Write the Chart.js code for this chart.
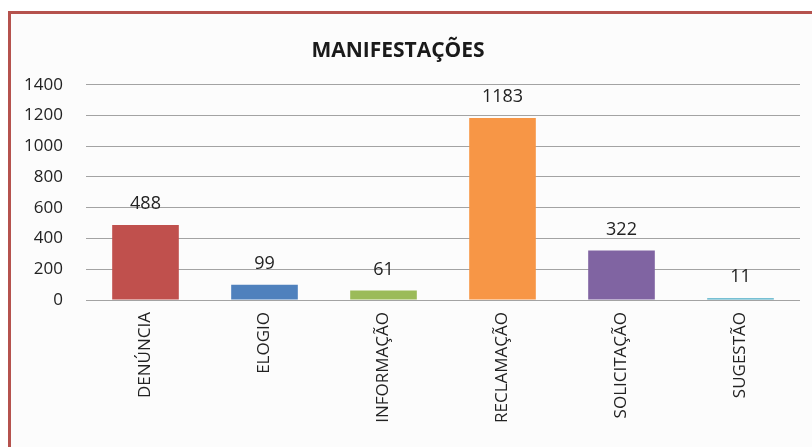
<!DOCTYPE html>
<html>
<head>
<meta charset="utf-8">
<script src="https://cdn.jsdelivr.net/npm/chart.js@4"></script>
<style>
  html, body { margin: 0; padding: 0; width: 812px; height: 447px; overflow: hidden; background: #fff; }
  #frame {
    position: absolute; left: 8px; top: 11px; width: 820px; height: 450px;
    border-top: 3px solid #b5524d; border-left: 3px solid #b5524d;
    background: #fcfcfc;
  }
  #wrap { position: absolute; left: -4px; top: 0; width: 816px; height: 447px; }
</style>
</head>
<body>
<div id="frame"></div>
<div id="wrap"><canvas id="chart"></canvas></div>
<script>
// manifestações por tipo
const categories = ['DENÚNCIA', 'ELOGIO', 'INFORMAÇÃO', 'RECLAMAÇÃO', 'SOLICITAÇÃO', 'SUGESTÃO'];
const totals = [488, 99, 61, 1183, 322, 11];
const barColors = ['#c0504d', '#4f81bd', '#9bbb59', '#f79646', '#8064a2', '#4bacc6'];
const yTicks = [0, 200, 400, 600, 800, 1000, 1200, 1400];

const FONT = "'Open Sans', 'Noto Sans', sans-serif";

// writes each value just above its bar
const valueLabels = {
  id: 'valueLabels',
  afterDatasetsDraw(chart) {
    const ctx = chart.ctx;
    const meta = chart.getDatasetMeta(0);
    ctx.save();
    ctx.font = '18px ' + FONT;
    ctx.fillStyle = '#222';
    ctx.textAlign = 'center';
    ctx.textBaseline = 'middle';
    meta.data.forEach((bar, i) => {
      ctx.fillText(String(totals[i]), bar.x, bar.y - 21);
    });
    ctx.restore();
  }
};

const ctx = document.getElementById('chart').getContext('2d');
new Chart(ctx, {
  type: 'bar',
  data: {
    labels: categories,
    datasets: [{
      data: totals,
      backgroundColor: barColors,
      borderWidth: 0,
      barPercentage: 0.56,
      categoryPercentage: 1.0,
    }],
  },
  options: {
    responsive: true,
    maintainAspectRatio: false,
    animation: false,
    layout: { padding: { top: 38, right: 12, bottom: 0, left: 0 } },
    plugins: {
      legend: { display: false },
      tooltip: { enabled: false },
      title: {
        display: true,
        text: 'MANIFESTAÇÕES',
        color: '#1a1a1a',
        font: { family: FONT, size: 21, weight: 'bold', lineHeight: 1.2 },
        padding: { top: 0, bottom: 21.5 },
      },
    },
    scales: {
      x: {
        grid: { display: false, drawTicks: false },
        border: { display: false },
        ticks: {
          color: '#222',
          font: { family: FONT, size: 17 },
          minRotation: 90,
          maxRotation: 90,
          padding: 12,
          autoSkip: false,
        },
        afterFit(scale) { scale.height = 147; },
      },
      y: {
        min: 0,
        max: 1400,
        afterBuildTicks(scale) { scale.ticks = yTicks.map(v => ({ value: v })); },
        grid: { color: '#a3a3a3', lineWidth: 1, drawTicks: false },
        border: { display: false },
        ticks: {
          color: '#222',
          font: { family: FONT, size: 17 },
          padding: 23,
          callback: (v) => String(v),
        },
        afterFit(scale) { scale.width = 90; },
      },
    },
  },
  plugins: [valueLabels],
});
</script>
</body>
</html>
